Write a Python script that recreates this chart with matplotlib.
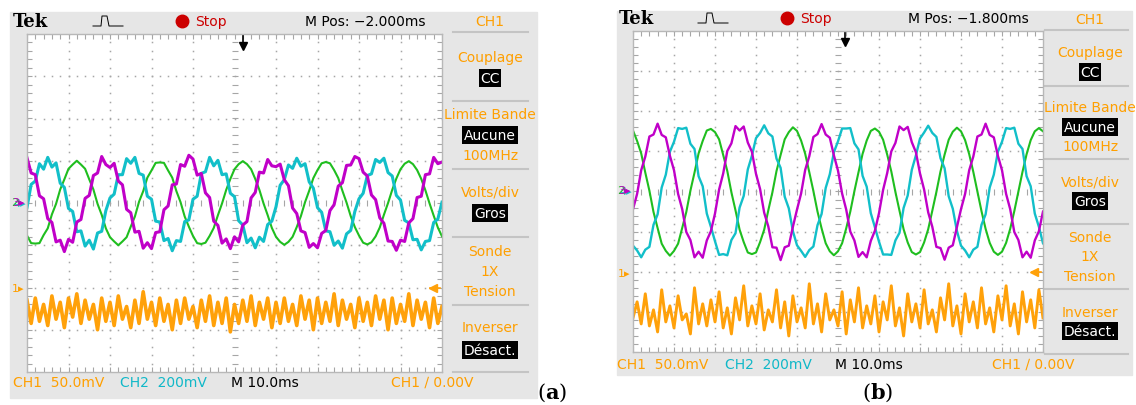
import numpy as np
import matplotlib
matplotlib.use('Agg')
import matplotlib.pyplot as plt

plt.rcParams['font.family'] = ['Liberation Sans Narrow', 'DejaVu Sans']
plt.rcParams['mathtext.fontset'] = 'dejavuserif'

W, H = 1136, 406

# time base in divisions (10 div = 100 ms on screen), one sample every 0.1 div
t = np.linspace(0, 10, 101)

# ---- (a) : values in divisions
green_a = [
    -0.77, -0.95, -0.96, -0.95, -0.76, -0.60, -0.27, -0.02, 0.32, 0.56,
    0.81, 0.91, 1.00, 0.91, 0.81, 0.56, 0.32, -0.02, -0.28, -0.60,
    -0.81, -0.91, -1.00, -0.91, -0.81, -0.56, -0.32, 0.03, 0.28, 0.60,
    0.77, 0.95, 0.96, 0.95, 0.77, 0.60, 0.28, 0.02, -0.32, -0.56,
    -0.78, -0.95, -0.97, -0.94, -0.78, -0.59, -0.29, -0.01, 0.31, 0.57,
    0.80, 0.92, 0.99, 0.92, 0.80, 0.57, 0.31, -0.01, -0.29, -0.59,
    -0.80, -0.92, -0.99, -0.92, -0.80, -0.57, -0.31, 0.02, 0.29, 0.59,
    0.78, 0.94, 0.97, 0.94, 0.78, 0.59, 0.29, 0.01, -0.31, -0.57,
    -0.77, -0.94, -0.98, -0.93, -0.79, -0.58, -0.28, 0.00, 0.31, 0.58,
    0.80, 0.93, 0.99, 0.92, 0.78, 0.57, 0.30, -0.01, -0.30, -0.58,
    -0.79]
magenta_a = [
    1.07, 0.71, 0.67, 0.17, 0.10, -0.37, -0.46, -0.92, -0.88, -1.15,
    -0.86, -0.93, -0.45, -0.39, 0.11, 0.18, 0.65, 0.71, 1.10, 0.91,
    0.84, 0.94, 0.52, 0.43, -0.15, -0.23, -0.69, -0.67, -1.07, -0.94,
    -1.08, -0.70, -0.68, -0.16, -0.07, 0.43, 0.45, 0.91, 0.87, 1.13,
    1.04, 0.66, 0.70, 0.24, 0.13, -0.43, -0.53, -0.95, -0.85, -1.08,
    -0.80, -0.92, -0.52, -0.44, 0.12, 0.25, 0.73, 0.71, 1.03, 0.88,
    0.86, 0.92, 0.55, 0.41, -0.12, -0.25, -0.66, -0.70, -1.05, -0.96,
    -1.06, -0.72, -0.65, -0.18, -0.04, 0.40, 0.48, 0.89, 0.90, 1.10,
    1.05, 0.73, 0.64, 0.19, 0.08, -0.35, -0.48, -0.90, -0.91, -1.12,
    -0.88, -0.91, -0.47, -0.37, 0.13, 0.16, 0.67, 0.69, 1.08, 0.93,
    0.97]
cyan_a = [
    -0.11, 0.44, 0.52, 0.93, 0.80, 1.08, 0.85, 0.95, 0.47, 0.37,
    -0.13, -0.20, -0.68, -0.66, -1.02, -0.88, -1.09, -0.71, -0.67, -0.18,
    0.12, 0.21, 0.67, 0.67, 1.05, 0.94, 1.08, 0.70, 0.66, 0.16,
    0.09, -0.43, -0.45, -0.89, -0.84, -1.13, -0.89, -0.91, -0.44, -0.40,
    0.09, 0.16, 0.70, 0.74, 1.08, 0.88, 1.01, 0.67, 0.69, 0.23,
    0.15, -0.42, -0.52, -0.94, -0.83, -1.06, -0.81, -0.91, -0.51, -0.43,
    -0.09, 0.42, 0.55, 0.90, 0.82, 1.06, 0.87, 0.93, 0.50, 0.35,
    -0.11, -0.22, -0.66, -0.68, -1.00, -0.90, -1.07, -0.73, -0.65, -0.20,
    0.10, 0.23, 0.65, 0.69, 1.03, 0.96, 1.06, 0.72, 0.64, 0.18,
    0.07, -0.41, -0.47, -0.87, -0.86, -1.11, -0.91, -0.89, -0.46, -0.38,
    0.02]
orange_a = [
    -0.30, -0.85, -0.25, -0.80, -0.40, -0.90, -0.20, -0.75, -0.35, -0.95,
    -0.25, -0.70, -0.15, -0.85, -0.30, -0.75, -0.40, -1.00, -0.25, -0.80,
    -0.35, -0.90, -0.20, -0.75, -0.45, -0.95, -0.30, -0.85, -0.10, -0.75,
    -0.35, -0.90, -0.25, -0.80, -0.40, -1.00, -0.30, -0.85, -0.25, -0.75,
    -0.45, -0.95, -0.30, -0.80, -0.20, -0.90, -0.35, -0.85, -0.25, -1.05,
    -0.40, -0.85, -0.30, -0.80, -0.20, -0.90, -0.35, -0.75, -0.25, -0.95,
    -0.35, -0.85, -0.25, -0.80, -0.40, -0.90, -0.20, -0.75, -0.30, -1.00,
    -0.25, -0.85, -0.35, -0.80, -0.15, -0.90, -0.30, -0.75, -0.40, -0.95,
    -0.25, -0.80, -0.35, -0.90, -0.20, -0.75, -0.30, -1.00, -0.25, -0.85,
    -0.40, -0.80, -0.15, -0.90, -0.30, -0.75, -0.35, -0.95, -0.25, -0.85,
    -0.45]

# ---- (b)
green_b = [
    1.52, 1.26, 0.95, 0.47, 0.02, -0.51, -0.91, -1.30, -1.48, -1.60,
    -1.48, -1.30, -0.91, -0.51, 0.02, 0.47, 0.95, 1.26, 1.52, 1.56,
    1.48, 1.30, 0.91, 0.51, -0.02, -0.47, -0.95, -1.26, -1.52, -1.56,
    -1.52, -1.26, -0.95, -0.47, -0.02, 0.51, 0.91, 1.30, 1.48, 1.60,
    1.51, 1.27, 0.94, 0.48, 0.01, -0.50, -0.92, -1.29, -1.49, -1.59,
    -1.49, -1.29, -0.92, -0.50, 0.01, 0.48, 0.94, 1.27, 1.51, 1.57,
    1.49, 1.29, 0.92, 0.50, -0.01, -0.48, -0.94, -1.27, -1.51, -1.57,
    -1.51, -1.27, -0.94, -0.48, -0.01, 0.50, 0.92, 1.29, 1.49, 1.59,
    1.50, 1.28, 0.93, 0.49, 0.00, -0.49, -0.93, -1.28, -1.50, -1.58,
    -1.50, -1.28, -0.93, -0.49, 0.00, 0.49, 0.93, 1.28, 1.50, 1.58,
    1.50]
magenta_b = [
    -0.44, -0.06, 0.53, 0.87, 1.37, 1.42, 1.69, 1.41, 1.35, 0.89,
    0.53, -0.06, -0.44, -1.01, -1.21, -1.64, -1.50, -1.65, -1.22, -0.99,
    -0.55, 0.05, 0.45, 1.01, 1.20, 1.63, 1.52, 1.62, 1.22, 0.99,
    0.44, 0.06, -0.53, -0.87, -1.39, -1.40, -1.71, -1.39, -1.35, -0.88,
    -0.45, -0.05, 0.54, 0.88, 1.36, 1.43, 1.68, 1.42, 1.34, 0.90,
    0.52, -0.05, -0.45, -1.00, -1.22, -1.63, -1.51, -1.64, -1.23, -0.98,
    -0.54, 0.04, 0.46, 1.00, 1.21, 1.62, 1.53, 1.61, 1.23, 0.98,
    0.45, 0.05, -0.52, -0.88, -1.38, -1.41, -1.70, -1.40, -1.34, -0.89,
    -0.44, -0.06, 0.53, 0.87, 1.37, 1.42, 1.69, 1.41, 1.35, 0.89,
    0.53, -0.06, -0.44, -1.01, -1.21, -1.64, -1.50, -1.65, -1.22, -0.99,
    -0.50]
cyan_b = [
    -1.35, -1.47, -1.64, -1.45, -1.38, -0.83, -0.57, 0.10, 0.42, 0.99,
    1.24, 1.58, 1.56, 1.59, 1.19, 1.06, 0.38, 0.13, -0.55, -0.88,
    -1.24, -1.58, -1.56, -1.59, -1.21, -1.04, -0.40, -0.11, 0.55, 0.89,
    1.33, 1.46, 1.65, 1.45, 1.37, 0.82, 0.59, -0.13, -0.42, -0.99,
    -1.34, -1.48, -1.63, -1.46, -1.37, -0.84, -0.56, 0.09, 0.43, 0.98,
    1.25, 1.57, 1.57, 1.58, 1.20, 1.05, 0.39, 0.12, -0.54, -0.89,
    -1.25, -1.57, -1.57, -1.58, -1.22, -1.03, -0.41, -0.10, 0.54, 0.90,
    1.32, 1.47, 1.64, 1.46, 1.36, 0.83, 0.58, -0.12, -0.43, -0.98,
    -1.35, -1.47, -1.64, -1.45, -1.38, -0.83, -0.57, 0.10, 0.42, 0.99,
    1.24, 1.58, 1.56, 1.59, 1.19, 1.06, 0.38, 0.13, -0.55, -0.88,
    -1.29]
orange_b = [
    -1.15, -0.75, -1.30, -0.55, -1.35, -0.95, -1.50, -0.45, -1.25, -0.85,
    -1.40, -0.60, -1.20, -1.05, -1.55, -0.40, -1.30, -0.80, -1.35, -0.70,
    -1.25, -0.50, -1.40, -0.90, -1.55, -0.65, -1.20, -0.35, -1.35, -0.85,
    -1.30, -0.55, -1.45, -0.95, -1.25, -0.45, -1.40, -0.75, -1.60, -0.60,
    -1.25, -0.90, -1.40, -0.30, -1.30, -0.80, -1.50, -0.55, -1.20, -0.95,
    -1.35, -0.50, -1.55, -0.70, -1.25, -0.40, -1.40, -0.85, -1.30, -0.60,
    -1.50, -0.75, -1.20, -0.35, -1.35, -0.90, -1.60, -0.55, -1.25, -0.80,
    -1.40, -0.45, -1.30, -0.95, -1.50, -0.65, -1.20, -0.30, -1.35, -0.85,
    -1.55, -0.55, -1.25, -0.75, -1.40, -0.40, -1.30, -0.90, -1.50, -0.60,
    -1.20, -0.35, -1.35, -0.80, -1.55, -0.50, -1.25, -0.70, -1.40, -0.45,
    -1.15]

menu_labels = ["Couplage", "CC", "Limite Bande", "Aucune", "100MHz", "Volts/div",
               "Gros", "Sonde", "1X", "Tension", "Inverser", "Désact."]
boxed = {"CC", "Aucune", "Gros", "Désact."}

GREEN, MAGENTA, CYAN, ORANGE = '#1fbe1f', '#c000c8', '#12bfc9', '#ffa10a'
TXT_OR, TXT_CY = '#ff9f00', '#10b8c8'
FS = 10

fig = plt.figure(figsize=(W / 100, H / 100), dpi=100)
bg = fig.add_axes([0, 0, 1, 1])
bg.set_xlim(0, W)
bg.set_ylim(H, 0)
bg.axis('off')


def rect(x0, y0, x1, y1):
    return [x0 / W, 1 - y1 / H, (x1 - x0) / W, (y1 - y0) / H]


def panel(p, green, magenta, cyan, orange):
    x0, y0, x1, y1 = p['frame']
    bg.add_patch(plt.Rectangle((x0, y0), x1 - x0, y1 - y0, color='#e6e6e6', zorder=0))
    ty = p['top_y']
    bg.text(p['tek'], ty, "Tek", family='DejaVu Serif', weight='bold', fontsize=13,
            va='center', ha='left')
    gx = p['glyph']
    bg.plot([gx, gx + 8, gx + 9, gx + 14, gx + 16, gx + 30],
            [ty + 5, ty + 5, ty - 5, ty - 5, ty + 5, ty + 5], color='k', lw=0.7)
    bg.plot([p['dot']], [ty], 'o', color='#cc0000', ms=9)
    bg.text(p['dot'] + 13, ty, "Stop", color='#cc0000', fontsize=FS, va='center')
    bg.text(p['mpos_x'], ty, p['mpos'], color='k', fontsize=FS, va='center', ha='center')

    mx = p['menu_x']
    bg.text(mx, p['ch1_y'], "CH1", color=TXT_OR, fontsize=FS, ha='center', va='center')
    for sy in p['seps']:
        bg.plot([p['sep_x'][0], p['sep_x'][1]], [sy, sy], color='#c4c4c4', lw=1.5)
    for lab, yy in zip(menu_labels, p['rows']):
        if lab in boxed:
            bg.text(mx, yy, lab, color='white', fontsize=FS, ha='center', va='center',
                    bbox=dict(facecolor='black', edgecolor='none', pad=1.2))
        else:
            bg.text(mx, yy, lab, color=TXT_OR, fontsize=FS, ha='center', va='center')

    by = p['bot_y']
    bx = p['bot_x']
    bg.text(bx[0], by, "CH1  50.0mV", color=TXT_OR, fontsize=FS, va='center')
    bg.text(bx[1], by, "CH2  200mV", color=TXT_CY, fontsize=FS, va='center')
    bg.text(bx[2], by, "M 10.0ms", color='k', fontsize=FS, va='center')
    bg.text(bx[3], by, "CH1 \u2215 0.00V", color=TXT_OR, fontsize=FS, va='center')

    bg.text(p['label'][0], p['label'][1], "($\\mathbf{%s}$)" % p['label'][2], fontsize=15,
            ha='center', va='center', family='DejaVu Serif')

    # screen
    ax = fig.add_axes(rect(*p['screen']))
    ax.set_xlim(0, 10)
    ax.set_ylim(-4, 4)
    ax.set_xticks([])
    ax.set_yticks([])
    for s in ax.spines.values():
        s.set_color('#b8b8b8')
        s.set_linewidth(1.0)
    ys = np.arange(-4, 4.001, 0.2)
    xs = np.arange(0, 10.001, 0.2)
    for i in range(1, 10):
        if i != 5:
            ax.plot(np.full(len(ys), i), ys, ls='none', marker='s', ms=1.1,
                    mew=0, color='#a6a6a6')
    for j in (-3, -2, -1, 1, 2, 3):
        ax.plot(xs, np.full(len(xs), j), ls='none', marker='s', ms=1.1,
                mew=0, color='#a6a6a6')
    ax.plot(np.full(len(ys), 5), ys, ls='none', marker='_', ms=4, mew=0.8, color='#a6a6a6')
    ax.plot(xs, np.zeros(len(xs)), ls='none', marker='|', ms=4, mew=0.8, color='#a6a6a6')
    for xe in (0, 10):
        ax.plot(np.full(len(ys), xe), ys, ls='none', marker='_', ms=7, mew=0.8, color='#a6a6a6')
    for ye in (-4, 4):
        ax.plot(xs, np.full(len(xs), ye), ls='none', marker='|', ms=7, mew=0.8, color='#a6a6a6')

    ax.plot(t, np.asarray(orange) - 2, color=ORANGE, lw=p['lw_orange'])
    ax.plot(t, green, color=GREEN, lw=1.5)
    ax.plot(t, cyan, color=CYAN, lw=p['lw_noisy'])
    ax.plot(t, magenta, color=MAGENTA, lw=p['lw_noisy'])

    # trigger position arrow and level arrow
    tx = p['trig_x']
    ax.plot([tx, tx], [4, 3.7], color='k', lw=1.2)
    ax.plot([tx], [3.72], marker='v', color='k', ms=6)
    ax.plot([9.72, 9.95], [-2, -2], color=ORANGE, lw=1.2)
    ax.plot([9.78], [-2], marker='<', color=ORANGE, ms=6)

    sx = p['screen'][0]
    gy = p['gnd_y']
    bg.text(sx - 15, gy, "1\u25b8", color=TXT_OR, fontsize=8, va='center')
    cy = p['ch_y']
    bg.text(sx - 14, cy + 1, "4\u25b8", color=CYAN, fontsize=8, va='center')
    bg.text(sx - 16, cy, "2\u25b8", color=GREEN, fontsize=8, va='center')
    bg.text(sx - 15, cy, "3\u25b8", color=MAGENTA, fontsize=8, va='center')


panel_a = dict(frame=(10, 13, 537, 399), screen=(27, 35, 442, 373), top_y=22, tek=13,
               glyph=93, dot=182, mpos_x=365, mpos="M Pos: \u22122.000ms",
               menu_x=490, ch1_y=22, seps=[33, 102, 170, 238, 306, 373], sep_x=(453, 528),
               rows=[58, 79, 115, 136, 156, 193, 214, 252, 272, 292, 328, 351],
               bot_y=383, bot_x=(13, 120, 231, 391), label=(552, 393, "a"),
               trig_x=5.2, gnd_y=289, ch_y=203, lw_noisy=2.2, lw_orange=2.6)
panel_b = dict(frame=(617, 12, 1132, 376), screen=(633, 32, 1043, 353), top_y=19, tek=619,
               glyph=698, dot=787, mpos_x=968, mpos="M Pos: \u22121.800ms",
               menu_x=1090, ch1_y=20, seps=[31, 87, 160, 225, 290, 355], sep_x=(1045, 1128),
               rows=[53, 73, 108, 128, 147, 183, 202, 238, 257, 277, 313, 332],
               bot_y=365, bot_x=(617, 725, 835, 992), label=(878, 393, "b"),
               trig_x=5.18, gnd_y=274, ch_y=191, lw_noisy=1.7, lw_orange=2.1)

panel(panel_a, green_a, magenta_a, cyan_a, orange_a)
panel(panel_b, green_b, magenta_b, cyan_b, orange_b)

fig.savefig('out.png', dpi=100, facecolor='white')
